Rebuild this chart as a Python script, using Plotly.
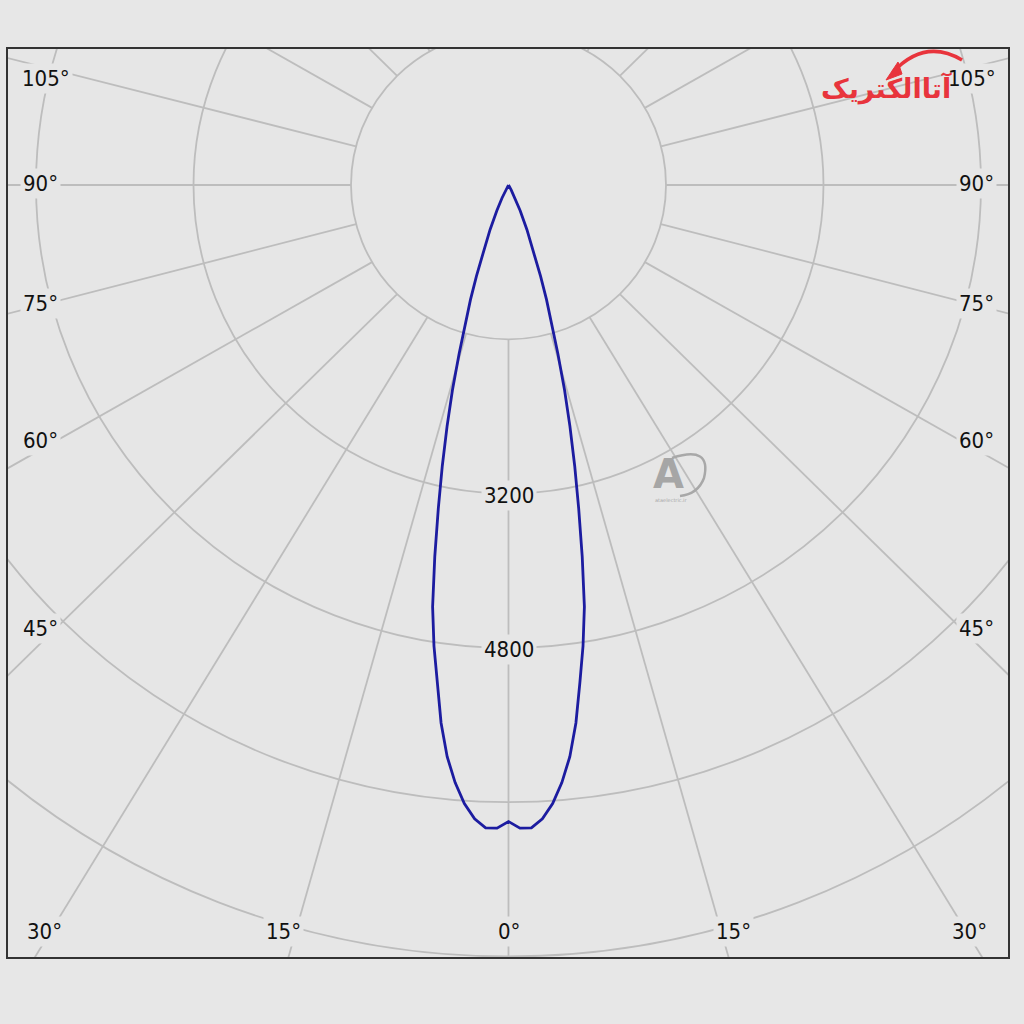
import numpy as np
import plotly.graph_objects as go

# ---------------- data ----------------
# luminous intensity (cd) vs angle from nadir (deg); symmetric beam
angles_deg = [0, 1, 2, 3, 4, 5, 6, 7, 8, 9, 10, 11, 12, 13, 14, 15, 16, 17, 18, 19, 20, 22, 24, 26, 28, 30]
intensity_cd = [6600, 6670, 6670, 6580, 6430, 6220, 5960, 5620, 5210, 4840, 4440, 3925, 3430, 2990,
                2580, 2200, 1820, 1480, 1250, 1000, 760, 500, 290, 150, 60, 0]

ring_values = [1600, 3200, 4800, 6400, 8000, 9600]
ring_labels = ["3200", "4800"]
# angular grid lines as they appear in the picture (deg from nadir)
grid_angles_deg = [0, 15.6, 31, 45, 60, 75.3, 90, 104.5, 120, 135, 150, 165, 180]
angle_tick_text = ["0°", "15°", "30°", "45°", "60°", "75°", "90°", "105°"]

# ---------------- layout constants ----------------
W, H = 1024, 1024
PL, PR, PT, PB = 8, 1008, 49, 957          # plot frame in px
CX, CY = 508.5, 185.0                       # pole position in px
SX, SY = 0.098437, 0.09644                  # px per cd (x, y)

def dx(px):
    return (px - CX) / SX

def dy(py):
    return (CY - py) / SY

BG = "#e6e6e6"
GRID = "#bdbdbd"
FONT = "DejaVu Sans Condensed, DejaVu Sans, sans-serif"

fig = go.Figure()

# intensity curve (mirrored for both half-planes)
th = np.radians(angles_deg)
I = np.array(intensity_cd, dtype=float)
x_right = I * np.sin(th)
y_right = -I * np.cos(th)
xs = np.concatenate([-x_right[::-1], x_right[1:]])
ys = np.concatenate([y_right[::-1], y_right[1:]])
fig.add_trace(go.Scatter(x=xs, y=ys, mode="lines",
                         line=dict(color="#1c1ca0", width=2.8),
                         hoverinfo="skip", showlegend=False))

shapes = []
for R in ring_values:
    shapes.append(dict(type="circle", xref="x", yref="y", x0=-R, x1=R, y0=-R, y1=R,
                       line=dict(color=GRID, width=1.8), layer="below"))
for a in grid_angles_deg:
    for s in ([1] if a in (0, 180) else [1, -1]):
        t = np.radians(a) * s
        r0, r1 = ring_values[0], 14000
        shapes.append(dict(type="line", xref="x", yref="y",
                           x0=r0 * np.sin(t), y0=-r0 * np.cos(t),
                           x1=r1 * np.sin(t), y1=-r1 * np.cos(t),
                           line=dict(color=GRID, width=1.8), layer="below"))

def ppx(px):
    return (px - PL) / (PR - PL)

def ppy(py):
    return (PB - py) / (PB - PT)

# logo swoosh (top right)
shapes.append(dict(type="path", xref="paper", yref="paper",
                   path=f"M {ppx(893)},{ppy(72)} Q {ppx(925)},{ppy(38)} {ppx(962)},{ppy(60)}",
                   line=dict(color="#e8343c", width=3.5)))
shapes.append(dict(type="path", xref="paper", yref="paper",
                   path=f"M {ppx(886)},{ppy(80)} L {ppx(898)},{ppy(62)} L {ppx(902)},{ppy(74)} Z",
                   line=dict(color="#e8343c", width=1), fillcolor="#e8343c"))
# watermark ring (centre)
shapes.append(dict(type="path", xref="paper", yref="paper",
                   path=f"M {ppx(672)},{ppy(458)} Q {ppx(712)},{ppy(445)} {ppx(704)},{ppy(478)} Q {ppx(698)},{ppy(494)} {ppx(680)},{ppy(496)}",
                   line=dict(color="#a8a8a8", width=2.5)))

annotations = []
def lab(text, px, py, size=22):
    annotations.append(dict(text=text, x=dx(px), y=dy(py), xref="x", yref="y",
                            showarrow=False, font=dict(family=FONT, size=size, color="#111111"),
                            bgcolor=BG, borderpad=2, xanchor="center", yanchor="middle"))

# angle labels: left column, right column, bottom row
side_y = [78, 183, 303, 440, 628]
side_txt = [angle_tick_text[7], angle_tick_text[6], angle_tick_text[5], angle_tick_text[4], angle_tick_text[3]]
for t, py in zip(side_txt, side_y):
    lab(t, 46 if t == "105°" else 40, py)
    lab(t, 972 if t == "105°" else 976, py)
bottom_x = [44, 283, 509, 733, 969]
bottom_txt = [angle_tick_text[2], angle_tick_text[1], angle_tick_text[0], angle_tick_text[1], angle_tick_text[2]]
for t, px in zip(bottom_txt, bottom_x):
    lab(t, px, 931)

# ring value labels on the 0° axis
for txt in ring_labels:
    v = float(txt)
    annotations.append(dict(text=txt, x=0, y=-v, xref="x", yref="y", yshift=-2,
                            showarrow=False, font=dict(family=FONT, size=22, color="#111111"),
                            bgcolor=BG, borderpad=2))

# logos
annotations.append(dict(text="<b>آتاالکتریک</b>", x=ppx(954), y=ppy(70), xref="paper", yref="paper",
                        showarrow=False, font=dict(family="DejaVu Sans, sans-serif", size=27, color="#e8343c")))
annotations.append(dict(text="<b>A</b>", x=ppx(686), y=ppy(474), xref="paper", yref="paper",
                        showarrow=False, font=dict(family="DejaVu Sans, sans-serif", size=40, color="#a6a6a6")))
annotations.append(dict(text="ataelectric.ir", x=ppx(690), y=ppy(500), xref="paper", yref="paper",
                        showarrow=False, font=dict(family="DejaVu Sans, sans-serif", size=5, color="#a6a6a6")))

fig.update_layout(
    width=W, height=H,
    margin=dict(l=PL, r=W - PR, t=PT, b=H - PB, pad=0),
    paper_bgcolor="#e7e7e7", plot_bgcolor=BG,
    shapes=shapes, annotations=annotations,
    showlegend=False,
    xaxis=dict(range=[dx(PL), dx(PR)], showgrid=False, zeroline=False, showticklabels=False,
               ticks="", showline=True, linecolor="#333333", linewidth=2, mirror=True, fixedrange=True),
    yaxis=dict(range=[dy(PB), dy(PT)], showgrid=False, zeroline=False, showticklabels=False,
               ticks="", showline=True, linecolor="#333333", linewidth=2, mirror=True, fixedrange=True),
)

fig.write_html("out.html", config={"displayModeBar": False},
               post_script="document.body.style.margin='0';document.body.style.background='#e7e7e7';")
